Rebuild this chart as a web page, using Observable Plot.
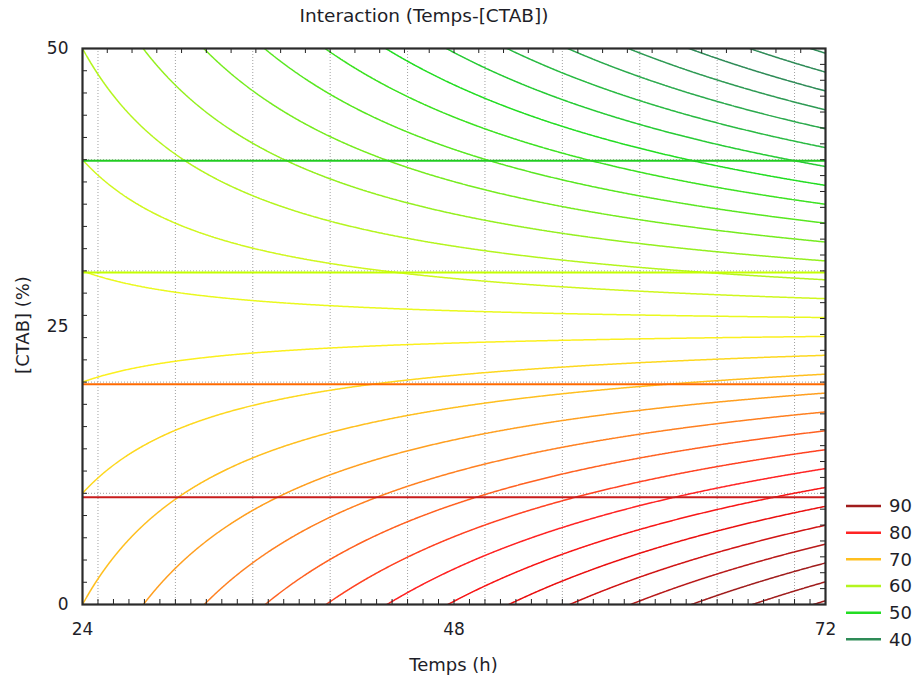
<!DOCTYPE html>
<html>
<head>
<meta charset="utf-8">
<script src="https://cdn.jsdelivr.net/npm/d3@7"></script>
<script src="https://cdn.jsdelivr.net/npm/@observablehq/plot@0.6"></script>
<style>
  body { margin: 0; background: #fff; }
  #wrap { position: relative; width: 916px; height: 678px; font-family: "DejaVu Sans", sans-serif; color: #1e1e28; overflow: hidden; }
  #chart { position: absolute; left: 0; top: 0; }
  .lbl { position: absolute; white-space: nowrap; font-size: 18px; line-height: 18px; text-align: center; }
  #title { left: 0; width: 848px; top: 7px; font-size: 18.5px; }
  #xlabel { left: 0; width: 907px; top: 656px; }
  #ylabel { left: -77px; width: 200px; top: 316px; transform: rotate(-90deg); }
  #legend { position: absolute; left: 0; top: 0; }
</style>
</head>
<body>
<div id="wrap">
  <div id="chart"></div>
  <div id="title" class="lbl">Interaction (Temps-[CTAB])</div>
  <div id="xlabel" class="lbl">Temps (h)</div>
  <div id="ylabel" class="lbl">[CTAB] (%)</div>
  <svg id="legend" width="916" height="678"></svg>
</div>
<script>
// ---- data ----
const tempsRange = [24, 72];            // Temps (h) extent
const ctabRange = [0, 50];              // [CTAB] (%) extent
const responseAtCtab0 = [70, 94.4];     // fitted response at Temps 24 and 72, CTAB 0
const responseAtCtab50 = [60, 35.5];    // fitted response at Temps 24 and 72, CTAB 50
const contourLevels = [36, 38, 40, 42, 44, 46, 48, 50, 52, 54, 56, 58, 60, 62, 64,
                       66, 68, 70, 72, 74, 76, 78, 80, 82, 84, 86, 88, 90, 92, 94];
const legendLevels = [90, 80, 70, 60, 50, 40];
const levelLines = [9.65, 19.8, 29.85, 39.9];   // horizontal coloured lines
const gridTemps = [25, 30, 35, 40, 45, 50, 55, 60, 65, 70];
const gridCtab = [10, 20, 30, 40];
const xTickLabels = [24, 48, 72];
const yTickLabels = [0, 25, 50];

// ---- scales / styling ----
const colorDomain = [40, 50, 60, 70, 80, 90];
const colorRange = ["#2e8b57", "#22dd22", "#b4f51e", "#ffbf1f", "#ff2323", "#a01c1c"];
const levelLineColors = ["#c81c1c", "#ff6a00", "#c4ff00", "#22cc22"];

// bilinear response surface through the four corner values
function response(t, c) {
  const u = (t - tempsRange[0]) / (tempsRange[1] - tempsRange[0]);
  const v = (c - ctabRange[0]) / (ctabRange[1] - ctabRange[0]);
  const z0 = responseAtCtab0[0] + u * (responseAtCtab0[1] - responseAtCtab0[0]);
  const z1 = responseAtCtab50[0] + u * (responseAtCtab50[1] - responseAtCtab50[0]);
  return z0 + v * (z1 - z0);
}

const yUnitsPerPx = (ctabRange[1] - ctabRange[0]) / 556;
const xUnitsPerPx = (tempsRange[1] - tempsRange[0]) / 743;
const tickLen = 5;
const pad = 6; // sample the surface a few pixels beyond the frame, then clip

const bottomTicks = d3.range(tempsRange[0] + 1, tempsRange[1], 1);
const topTicks = d3.range(1, 30).map(i => tempsRange[0] + i * (tempsRange[1] - tempsRange[0]) / 30);
const leftTicks = d3.range(ctabRange[0] + 2, ctabRange[1], 2);
const rightTicks = d3.range(1, 35).map(i => ctabRange[0] + i * (ctabRange[1] - ctabRange[0]) / 35);

const chart = Plot.plot({
  width: 916,
  height: 678,
  marginLeft: 82,
  marginRight: 91,
  marginTop: 48,
  marginBottom: 74,
  style: { fontFamily: "DejaVu Sans, sans-serif", fontSize: "17px", color: "#1e1e28", background: "transparent" },
  x: { domain: tempsRange },
  y: { domain: ctabRange },
  color: { type: "linear", domain: colorDomain, range: colorRange, interpolate: "hsl", clamp: true },
  marks: [
    Plot.ruleX(gridTemps, { stroke: "#a0a0a0", strokeDasharray: "1,2" }),
    Plot.ruleY(gridCtab, { stroke: "#a0a0a0", strokeDasharray: "1,2" }),
    Plot.contour({
      x1: tempsRange[0] - pad * xUnitsPerPx, x2: tempsRange[1] + pad * xUnitsPerPx,
      y1: ctabRange[0] - pad * yUnitsPerPx, y2: ctabRange[1] + pad * yUnitsPerPx,
      value: response,
      thresholds: contourLevels,
      stroke: "value",
      fill: "none",
      strokeWidth: 1.5,
      pixelSize: 1,
      clip: true
    }),
    Plot.ruleY(levelLines, { y: d => d, stroke: (d, i) => levelLineColors[i], strokeWidth: 2 }),
    Plot.ruleX(bottomTicks, { x: d => d, y1: ctabRange[0], y2: ctabRange[0] + tickLen * yUnitsPerPx, stroke: "#222" }),
    Plot.ruleX(topTicks, { x: d => d, y1: ctabRange[1], y2: ctabRange[1] - tickLen * yUnitsPerPx, stroke: "#222" }),
    Plot.ruleY(leftTicks, { y: d => d, x1: tempsRange[0], x2: tempsRange[0] + tickLen * xUnitsPerPx, stroke: "#222" }),
    Plot.ruleY(rightTicks, { y: d => d, x1: tempsRange[1], x2: tempsRange[1] - tickLen * xUnitsPerPx, stroke: "#222" }),
    Plot.frame({ stroke: "#2a2a2a", strokeWidth: 2.2 }),
    Plot.axisX({ ticks: xTickLabels, tickSize: 0, tickPadding: 18, label: null, fontSize: 17 }),
    Plot.axisY({ ticks: yTickLabels, tickSize: 0, tickPadding: 14, label: null, fontSize: 17 })
  ]
});
document.getElementById("chart").appendChild(chart);

// ---- legend ----
const legendColor = d3.scaleLinear().domain(colorDomain).range(colorRange)
  .interpolate(d3.interpolateHsl).clamp(true);
const lg = d3.select("#legend");
const items = lg.selectAll("g").data(legendLevels).join("g")
  .attr("transform", (d, i) => `translate(0,${506 + i * 26.67})`);
items.append("line").attr("x1", 846).attr("x2", 881).attr("y1", 0).attr("y2", 0)
  .attr("stroke", d => legendColor(d)).attr("stroke-width", 2.5);
items.append("text").attr("x", 889).attr("y", 0).attr("dy", "0.36em")
  .attr("font-family", "DejaVu Sans, sans-serif").attr("font-size", 18)
  .attr("fill", "#1e1e28").text(d => d);
</script>
</body>
</html>
